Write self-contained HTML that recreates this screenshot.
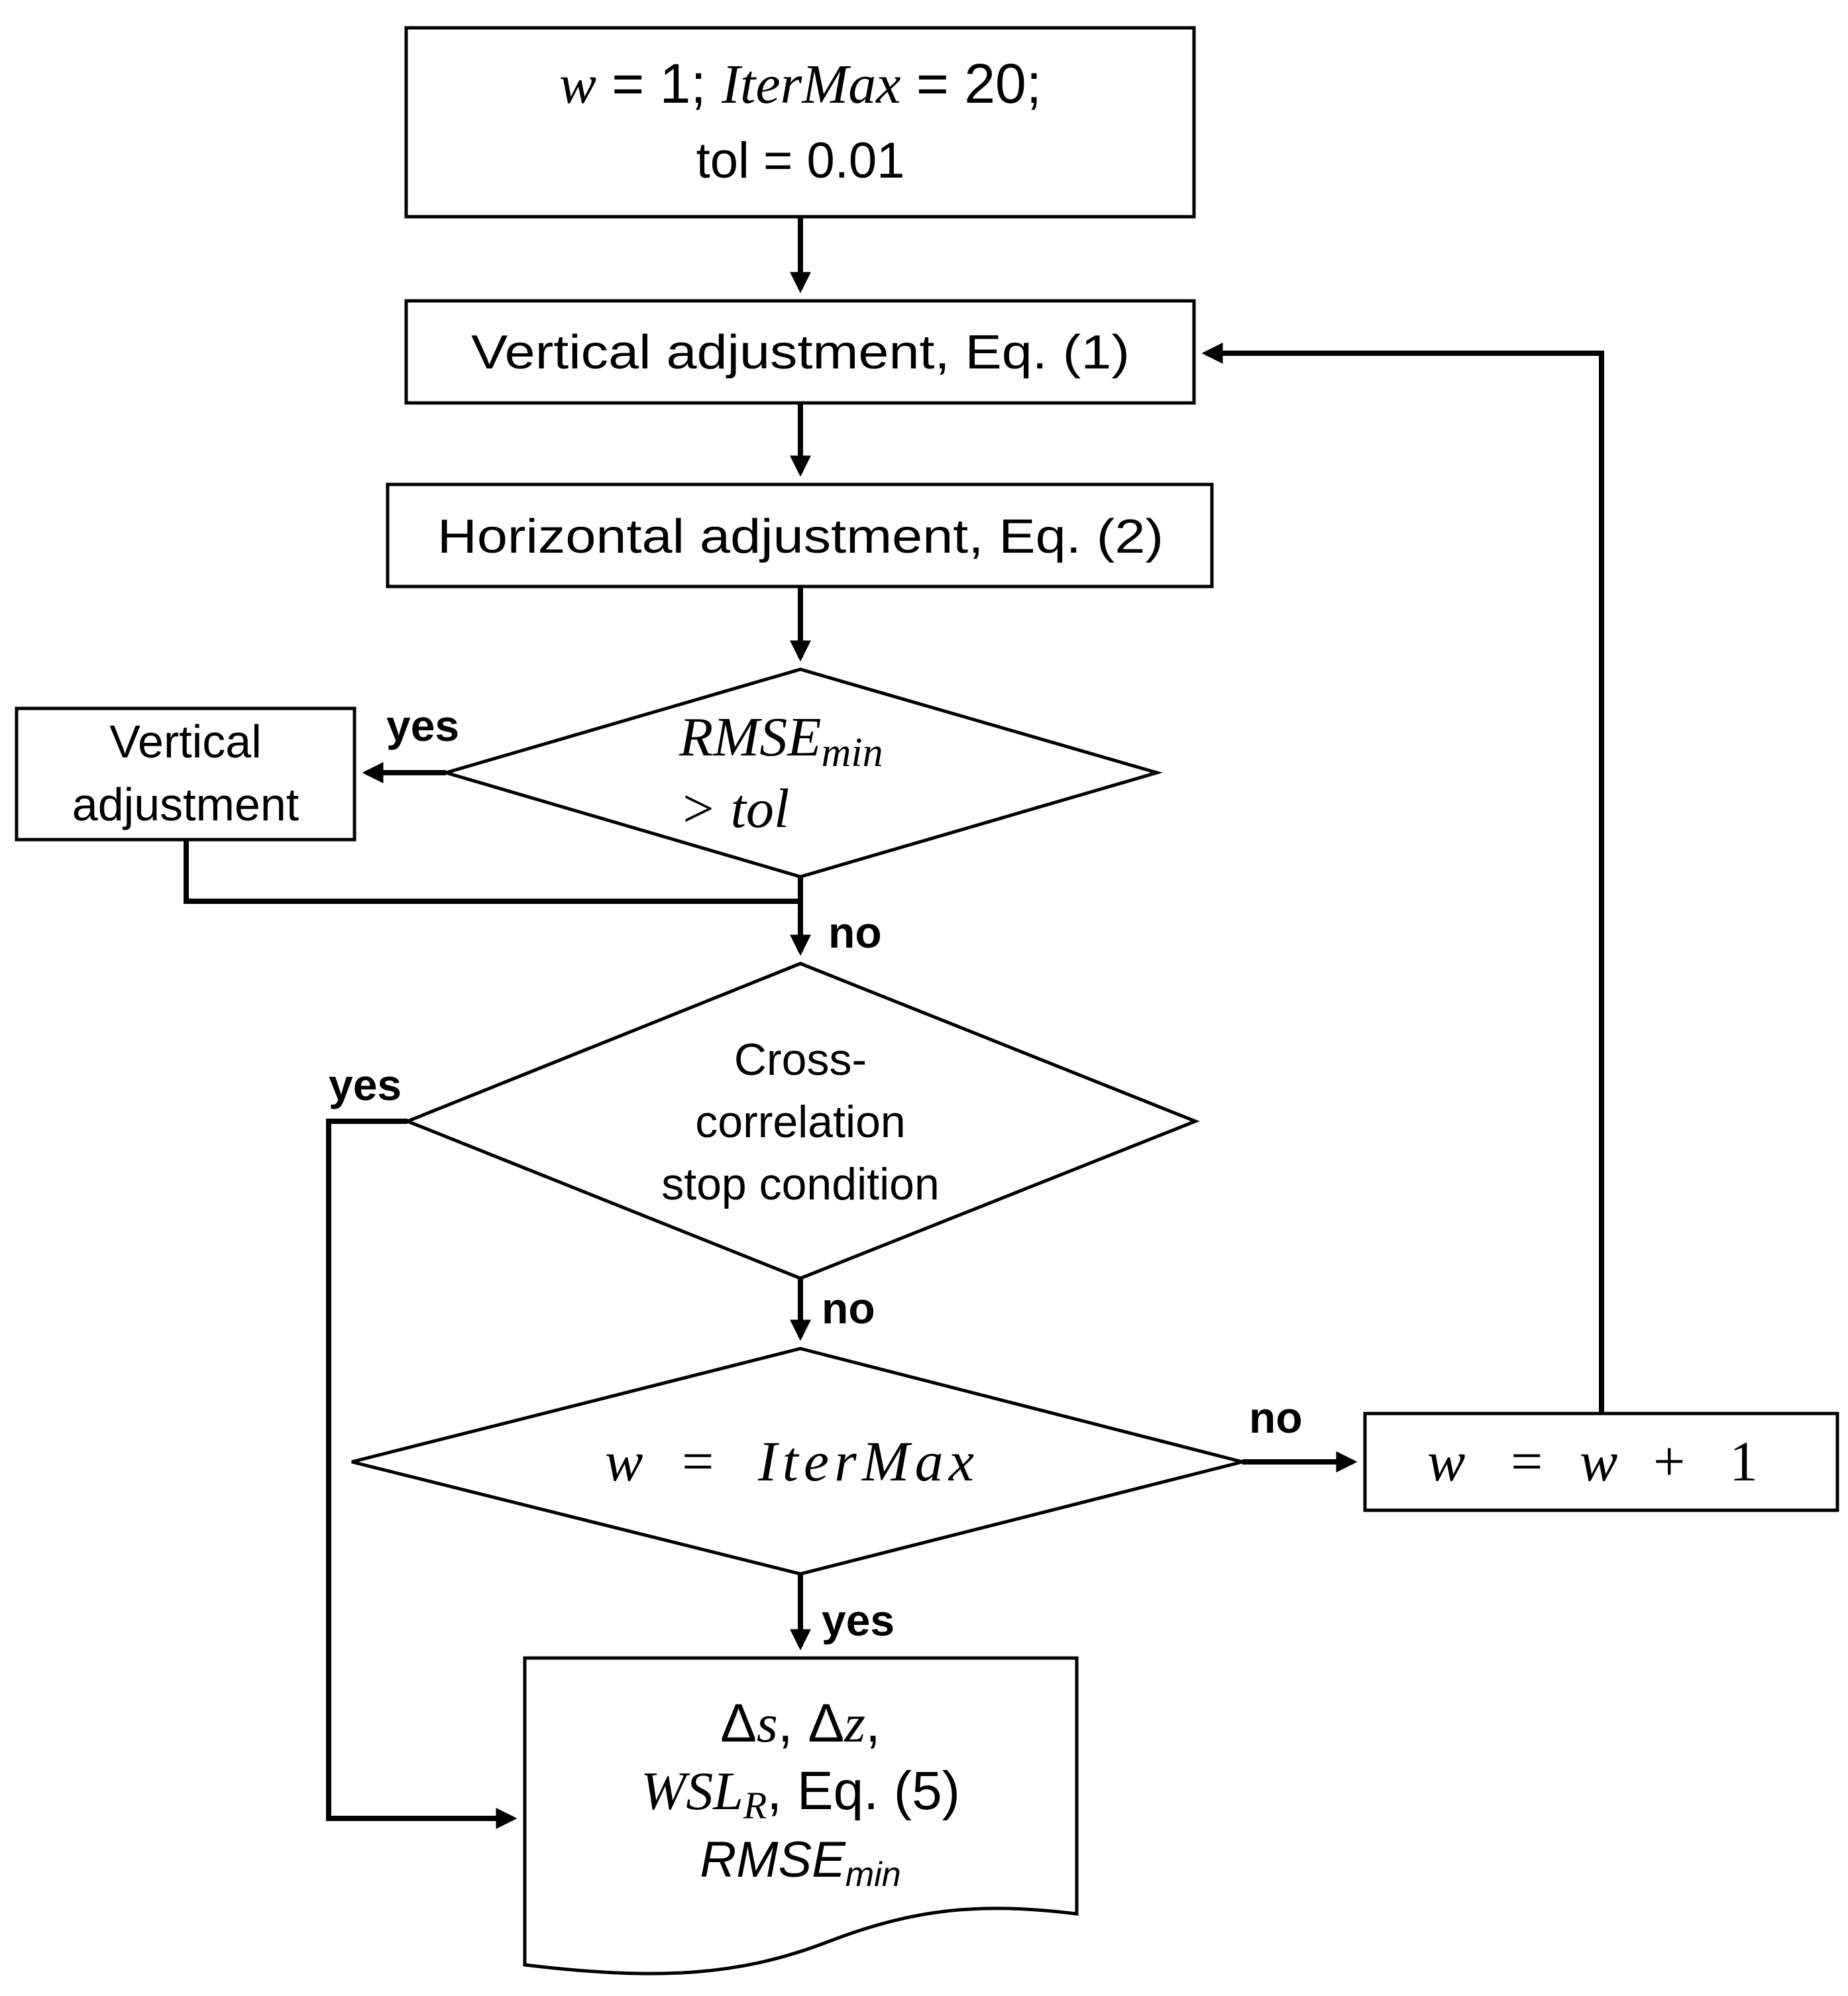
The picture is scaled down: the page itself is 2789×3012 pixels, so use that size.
<!DOCTYPE html>
<html><head><meta charset="utf-8"><style>
html,body{margin:0;padding:0;background:#fff;}
svg{display:block}
text{font-family:"Liberation Sans",sans-serif;fill:#000}
.m{font-family:"Liberation Serif",serif;font-style:italic}
.b{font-weight:bold}
</style></head><body>
<svg width="2789" height="3012" viewBox="0 0 2789 3012" xmlns="http://www.w3.org/2000/svg">
<defs>
<marker id="a" markerWidth="4" markerHeight="4" refX="3.2" refY="2" orient="auto" markerUnits="strokeWidth">
<path d="M0,0 L4,2 L0,4 z" fill="#000"/></marker>
</defs>
<g fill="none" stroke="#000" stroke-width="5">
<rect x="613" y="42" width="1189" height="285"/>
<rect x="613" y="454" width="1189" height="154"/>
<rect x="585" y="731" width="1244" height="154"/>
<polygon points="1208,1010 1746,1166 1208,1323 673,1166"/>
<rect x="25" y="1069" width="510" height="198"/>
<polygon points="1208,1454 1804,1692 1208,1929 615,1692"/>
<polygon points="1208,2035 1875,2206 1208,2375 531,2206"/>
<rect x="2060" y="2133" width="713" height="146"/>
<path d="M792,2502 L1625,2502 L1625,2888 C1480,2870 1380,2880 1250,2930 C1120,2980 1000,2990 792,2965 Z"/>
</g>
<g fill="none" stroke="#000" stroke-width="8">
<path d="M1208,327 V436" marker-end="url(#a)"/>
<path d="M1208,608 V713" marker-end="url(#a)"/>
<path d="M1208,885 V992" marker-end="url(#a)"/>
<path d="M673,1166 H553" marker-end="url(#a)"/>
<path d="M281,1267 V1360 H1208"/>
<path d="M1208,1323 V1436" marker-end="url(#a)"/>
<path d="M615,1692 H496 V2744 H774" marker-end="url(#a)"/>
<path d="M1208,1929 V2017" marker-end="url(#a)"/>
<path d="M1875,2206 H2042" marker-end="url(#a)"/>
<path d="M2417,2133 V533 H1820" marker-end="url(#a)"/>
<path d="M1208,2375 V2484" marker-end="url(#a)"/>
</g>
<text x="1208" y="155" font-size="84" text-anchor="middle"><tspan class="m">w</tspan> = 1; <tspan class="m">IterMax</tspan> = 20;</text>
<text x="1208" y="268" font-size="76" text-anchor="middle">tol = 0.01</text>
<text x="1208" y="556" font-size="72" text-anchor="middle" textLength="994" lengthAdjust="spacingAndGlyphs">Vertical adjustment, Eq. (1)</text>
<text x="1208" y="834" font-size="72" text-anchor="middle" textLength="1096" lengthAdjust="spacingAndGlyphs">Horizontal adjustment, Eq. (2)</text>
<text x="1025" y="1140" font-size="84" class="m">RMSE<tspan font-size="62" dy="16">min</tspan></text>
<text x="1025" y="1248" font-size="84" class="m">&gt; tol</text>
<text x="280" y="1143" font-size="70" text-anchor="middle">Vertical</text>
<text x="280" y="1238" font-size="70" text-anchor="middle">adjustment</text>
<text x="583" y="1118" font-size="66" class="b">yes</text>
<text x="1250" y="1430" font-size="66" class="b">no</text>
<text x="1208" y="1622" font-size="68" text-anchor="middle">Cross-</text>
<text x="1208" y="1716" font-size="68" text-anchor="middle">correlation</text>
<text x="1208" y="1810" font-size="68" text-anchor="middle">stop condition</text>
<text x="496" y="1660" font-size="66" class="b">yes</text>
<text x="1240" y="1997" font-size="66" class="b">no</text>
<text y="2234" font-size="86" class="m"><tspan x="913">w</tspan><tspan x="1029" font-style="normal">=</tspan><tspan x="1144" textLength="326" lengthAdjust="spacing">IterMax</tspan></text>
<text x="1885" y="2162" font-size="66" class="b">no</text>
<text y="2234" font-size="86" class="m"><tspan x="2154">w</tspan><tspan x="2280" font-style="normal">=</tspan><tspan x="2384">w</tspan><tspan x="2495" font-style="normal">+</tspan><tspan x="2610" font-style="normal">1</tspan></text>
<text x="1240" y="2468" font-size="66" class="b">yes</text>
<text x="1208" y="2628" font-size="82" text-anchor="middle">Δ<tspan class="m">s</tspan>, Δ<tspan class="m">z</tspan>,</text>
<text x="1208" y="2730" font-size="82" text-anchor="middle"><tspan class="m">WSL</tspan><tspan class="m" font-size="58" dy="14">R</tspan><tspan dy="-14">, Eq. (5)</tspan></text>
<text x="1208" y="2832" font-size="76" text-anchor="middle" font-style="italic">RMSE<tspan font-size="52" dy="14">min</tspan></text>
</svg>
</body></html>
